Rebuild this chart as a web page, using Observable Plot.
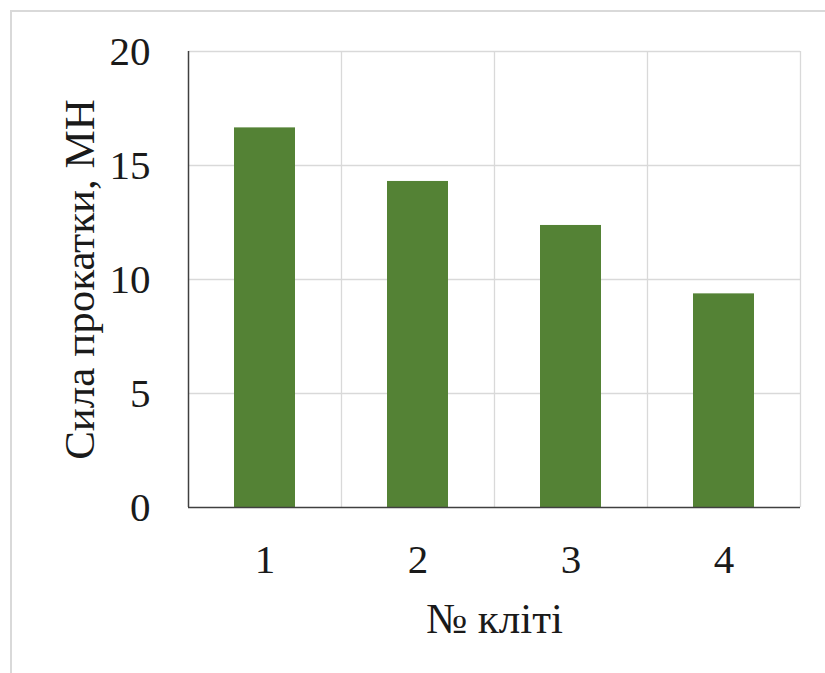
<!DOCTYPE html>
<html>
<head>
<meta charset="utf-8">
<script src="https://cdn.jsdelivr.net/npm/d3@7"></script>
<script src="https://cdn.jsdelivr.net/npm/@observablehq/plot@0.6"></script>
<style>
  html, body { margin: 0; padding: 0; background: #fff; overflow: hidden; }
  #wrap { position: relative; width: 825px; height: 673px; }
  #frame { position: absolute; left: 10px; top: 10px; width: 830px; height: 680px;
           border-top: 2px solid #d9d9d9; border-left: 2px solid #d9d9d9; pointer-events: none; }
  #wrap svg, #wrap svg text { font-family: "Liberation Serif", "Times New Roman", serif !important; }
</style>
</head>
<body>
<div id="wrap"><div id="frame"></div></div>
<script>
const stands = ["1", "2", "3", "4"];
const force = [16.65, 14.3, 12.37, 9.37];
const yTicks = [0, 5, 10, 15, 20];
const yTitle = "Сила прокатки, МН";
const xTitle = "№ кліті";

const data = stands.map((s, i) => ({stand: s, force: force[i]}));

const W = 825, H = 673;
const mL = 188, mR = 25, mT = 51, mB = 166;
const step = (W - mL - mR) / stands.length;
const FS = 41;
const TFS = 43;
const FONT = "Liberation Serif";

const chart = Plot.plot({
  width: W,
  height: H,
  marginLeft: mL,
  marginRight: mR,
  marginTop: mT,
  marginBottom: mB,
  style: {fontFamily: FONT, fontSize: FS + "px", color: "#1a1a1a", background: "transparent"},
  x: {domain: stands, paddingInner: 0.6, paddingOuter: 0.3},
  y: {domain: [0, 20]},
  marks: [
    Plot.ruleY(yTicks.filter(d => d > 0), {stroke: "#d9d9d9", strokeWidth: 1.3}),
    Plot.ruleX(stands, {x: d => d, dx: step / 2, stroke: "#d9d9d9", strokeWidth: 1.3}),
    Plot.barY(data, {x: "stand", y: "force", fill: "#548235"}),
    Plot.ruleX([stands[0]], {x: d => d, dx: -step / 2, stroke: "#404040", strokeWidth: 1.5}),
    Plot.ruleY([0], {stroke: "#404040", strokeWidth: 1.5}),
    Plot.axisY({ticks: yTicks, tickSize: 0, tickPadding: 38, label: null, fontSize: FS, fontFamily: FONT}),
    Plot.axisX({tickSize: 0, tickPadding: 36, label: null, fontSize: FS, fontFamily: FONT}),
    Plot.text([yTitle], {frameAnchor: "left", rotate: -90, dx: -95, textAnchor: "middle", lineAnchor: "bottom", fontSize: TFS, fontFamily: FONT, fill: "#1a1a1a"}),
    Plot.text([xTitle], {frameAnchor: "bottom", dy: 125, textAnchor: "middle", lineAnchor: "bottom", fontSize: TFS, fontFamily: FONT, fill: "#1a1a1a"})
  ]
});
document.getElementById("wrap").prepend(chart);
</script>
</body>
</html>
